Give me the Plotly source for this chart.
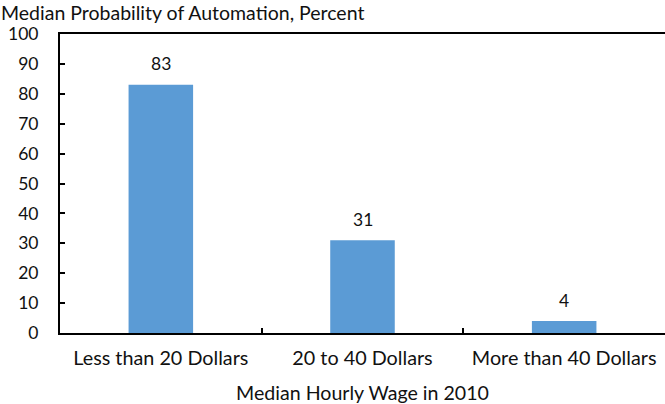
import plotly.graph_objects as go

categories = ["Less than 20 Dollars", "20 to 40 Dollars", "More than 40 Dollars"]
values = [83, 31, 4]
y_ticks = [0, 10, 20, 30, 40, 50, 60, 70, 80, 90, 100]

FONT = "Lato"
TXT = "#111111"
fig = go.Figure()
fig.add_trace(go.Bar(x=categories, y=values, marker_color="#5B9BD5",
                     marker_line_width=0, width=0.32, hoverinfo="skip"))

for c, v in zip(categories, values):
    fig.add_annotation(x=c, y=v, text=str(v), showarrow=False, yshift=21,
                       font=dict(family=FONT, size=17.5, color=TXT))

fig.add_annotation(text="Median Probability of Automation, Percent", xref="paper", yref="paper",
                   x=-60/605, y=1, xanchor="left", yanchor="bottom", yshift=8.5, showarrow=False,
                   borderpad=0, font=dict(family=FONT, size=19.5, color=TXT))

fig.update_layout(
    width=665, height=404,
    margin=dict(l=60, r=0, t=34, b=71),
    plot_bgcolor="white", paper_bgcolor="white",
    showlegend=False,
    font=dict(family=FONT, size=17, color=TXT),
    xaxis=dict(type="category", range=[-0.5, 2.5], showline=True, linecolor="black", linewidth=2,
               mirror=True, ticks="inside", tickson="boundaries", ticklen=5, tickwidth=1.5,
               tickcolor="black", showgrid=False, automargin=False, ticklabelstandoff=6,
               tickfont=dict(family=FONT, size=19.8, color=TXT),
               title=dict(text="Median Hourly Wage in 2010", standoff=20,
                          font=dict(family=FONT, size=19.6, color=TXT))),
    yaxis=dict(range=[0, 100], tickvals=y_ticks, showline=True, linecolor="black", linewidth=2,
               ticks="inside", ticklen=5, tickwidth=1.5, tickcolor="black", showgrid=False,
               zeroline=False, ticklabelstandoff=16, automargin=False,
               tickfont=dict(family=FONT, size=17.5, color=TXT)),
)

fig.write_html("out.html", config={"displayModeBar": False},
               post_script="document.body.style.margin='0';")
